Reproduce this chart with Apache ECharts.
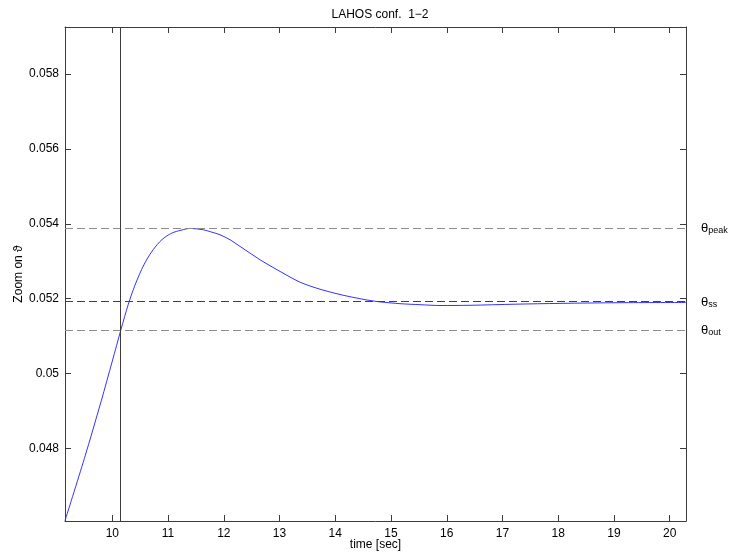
<!DOCTYPE html>
<html>
<head>
<meta charset="utf-8">
<script src="https://cdn.jsdelivr.net/npm/echarts@6/dist/echarts.min.js"></script>
<style>
html,body{margin:0;padding:0;background:#fff;}
#c{width:732px;height:559px;}
</style>
</head>
<body>
<div id="c"></div>
<script>
var titleText = 'LAHOS conf.  1\u22122';
var xName = 'time [sec]';
var yName = 'Zoom on \u03D1';
var xTicks = [10, 11, 12, 13, 14, 15, 16, 17, 18, 19, 20];
var yTicks = [0.048, 0.05, 0.052, 0.054, 0.056, 0.058];
var xRange = [9.151, 20.292];
var yRange = [0.04606, 0.05926];
var time = [9.151, 9.498, 9.8, 10.0, 10.156, 10.287, 10.400, 10.527, 10.623, 10.736, 10.892, 11.066, 11.233, 11.394, 11.633, 11.789, 11.932, 12.112, 12.291, 12.471, 12.650, 12.829, 13.009, 13.188, 13.368, 13.547, 13.726, 13.906, 14.085, 14.265, 14.444, 14.623, 14.803, 15.162, 15.520, 15.879, 16.417, 17.224, 18.032, 19.108, 20.292];
var theta = [0.046070, 0.047728, 0.049263, 0.050334, 0.051180, 0.051853, 0.052336, 0.052785, 0.053060, 0.053316, 0.053581, 0.053752, 0.053830, 0.053877, 0.053842, 0.053776, 0.053709, 0.053575, 0.053397, 0.053218, 0.053041, 0.052881, 0.052729, 0.052579, 0.052441, 0.052339, 0.052254, 0.052179, 0.052112, 0.052053, 0.052000, 0.051952, 0.051915, 0.051867, 0.051840, 0.051818, 0.051824, 0.051853, 0.051875, 0.051893, 0.051899];
var refLevels = [0.05388, 0.05192, 0.05116];
var refSubs = ['peak', 'ss', 'out'];
var refColors = ['#8c8c8c', '#404040', '#8c8c8c'];
var vLineTime = 10.14;

var font = 'Liberation Sans, Arial, Helvetica, sans-serif';
var axisCol = '#3c3c3c';

function fmtY(v){ return String(parseFloat(v.toFixed(4))); }

var data = time.map(function(t, i){ return [t, theta[i]]; });

var markData = refLevels.map(function(v, i){
  return {
    yAxis: v,
    lineStyle: {color: refColors[i], type: [8, 4], width: 1},
    label: {
      show: true, position: 'end', distance: 15,
      formatter: '{t|\u03B8}{s|' + refSubs[i] + '}',
      rich: {
        t: {fontSize: 13, fontFamily: font, color: '#000', verticalAlign: 'bottom', lineHeight: 14},
        s: {fontSize: 9, fontFamily: font, color: '#000', verticalAlign: 'bottom', lineHeight: 6}
      }
    }
  };
});
markData.push({
  xAxis: vLineTime,
  lineStyle: {color: '#3c3c3c', type: 'solid', width: 1},
  label: {show: false}
});

var chart = echarts.init(document.getElementById('c'), null, {renderer: 'canvas'});
var commonX = {
  type: 'value', min: xRange[0], max: xRange[1],
  splitLine: {show: false},
  axisLine: {show: true, onZero: false, lineStyle: {color: axisCol, width: 1}},
  axisTick: {show: true, inside: true, length: 6, customValues: xTicks, lineStyle: {color: axisCol}}
};
var commonY = {
  type: 'value', min: yRange[0], max: yRange[1],
  splitLine: {show: false},
  axisLine: {show: true, onZero: false, lineStyle: {color: axisCol, width: 1}},
  axisTick: {show: true, inside: true, length: 6, customValues: yTicks, lineStyle: {color: axisCol}}
};
chart.setOption({
  animation: false,
  backgroundColor: '#fff',
  title: {
    text: titleText, left: 375, top: 4, textAlign: 'center',
    textStyle: {fontFamily: font, fontSize: 12, fontWeight: 'normal', color: '#000'}
  },
  grid: {left: 65, right: 46, top: 27, bottom: 38, containLabel: false, outerBoundsMode: 'none'},
  xAxis: [
    Object.assign({}, commonX, {
      position: 'bottom',
      name: xName, nameLocation: 'middle', nameGap: 18, nameMoveOverlap: false,
      nameTextStyle: {fontFamily: font, fontSize: 12, color: '#000', verticalAlign: 'top'},
      axisLabel: {show: true, customValues: xTicks, margin: 7, fontFamily: font, fontSize: 12, color: '#000'}
    }),
    Object.assign({}, commonX, {position: 'top', axisLabel: {show: false}})
  ],
  yAxis: [
    Object.assign({}, commonY, {
      position: 'left',
      name: yName, nameLocation: 'middle', nameGap: 40, nameRotate: 90, nameMoveOverlap: false,
      nameTextStyle: {fontFamily: font, fontSize: 12, color: '#000'},
      axisLabel: {show: true, customValues: yTicks, margin: 6, fontFamily: font, fontSize: 12, color: '#000', formatter: fmtY}
    }),
    Object.assign({}, commonY, {position: 'right', axisLabel: {show: false}})
  ],
  series: [{
    type: 'line', data: data, xAxisIndex: 0, yAxisIndex: 0,
    showSymbol: false, symbol: 'none', smooth: 0.3,
    lineStyle: {color: '#3333ff', width: 1},
    markLine: {silent: true, symbol: 'none', precision: 6, animation: false, data: markData},
    z: 3
  }]
});
</script>
</body>
</html>
